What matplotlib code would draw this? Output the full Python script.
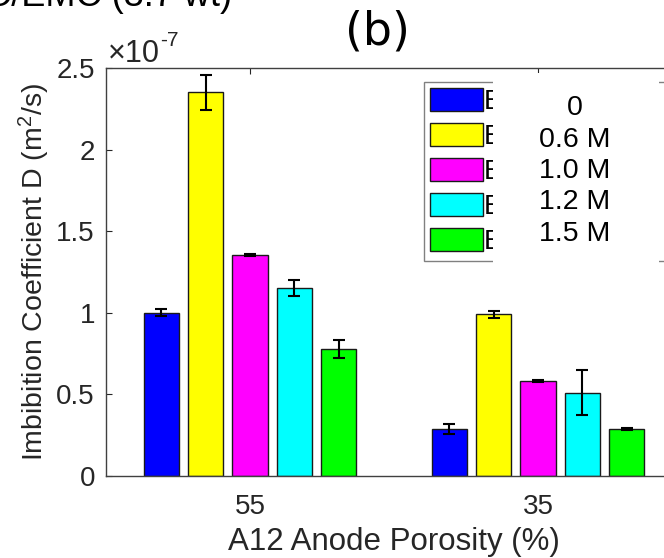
import numpy as np
import matplotlib
matplotlib.use('Agg')
import matplotlib.pyplot as plt
from matplotlib.patches import Rectangle
from matplotlib.ticker import FuncFormatter

plt.rcParams['font.family'] = ['Liberation Sans', 'DejaVu Sans']
plt.rcParams['mathtext.fontset'] = 'custom'
plt.rcParams['mathtext.rm'] = 'Liberation Sans'
plt.rcParams['mathtext.it'] = 'Liberation Sans:italic'

# data (imbibition coefficient in units of 1e-7 m^2/s)
porosity = ['55', '35']
concentrations = ['0', '0.6 M', '1.0 M', '1.2 M', '1.5 M']
legend_labels = ['Electrolyte 1', 'Electrolyte 2', 'Electrolyte 3',
                 'Electrolyte 4', 'Electrolyte 5']
d_0 = [1.00, 0.29]
d_06 = [2.35, 0.99]
d_10 = [1.355, 0.582]
d_12 = [1.153, 0.511]
d_15 = [0.777, 0.287]
err_0 = [0.022, 0.030]
err_06 = [0.105, 0.021]
err_10 = [0.008, 0.006]
err_12 = [0.050, 0.137]
err_15 = [0.057, 0.008]

means = [d_0, d_06, d_10, d_12, d_15]
errs = [err_0, err_06, err_10, err_12, err_15]
colors = ['#0000ff', '#ffff00', '#ff00ff', '#00ffff', '#00ff00']
dark = '#262626'

fig = plt.figure(figsize=(6.64, 5.58), dpi=100)
ax = fig.add_axes([106 / 664, 82 / 558, 576 / 664, 408 / 558])

x = np.arange(1, len(porosity) + 1)
n = len(means)
group_w = min(0.8, n / (n + 1.5))
step = group_w / n
bar_w = 0.8 * step

for i in range(n):
    pos = x + (i - (n - 1) / 2) * step
    ax.bar(pos, means[i], bar_w, color=colors[i], edgecolor='#1a1a1a',
           linewidth=1.0, label=legend_labels[i], zorder=2)
    ax.errorbar(pos, means[i], yerr=errs[i], fmt='none', ecolor='k',
                elinewidth=1.5, capsize=4.5, capthick=1.5, zorder=3)

ax.set_xlim(0.5, 2.5)
ax.set_ylim(0, 2.5)
ax.set_xticks(x, porosity)
ax.set_yticks(np.arange(0, 2.51, 0.5))
ax.yaxis.set_major_formatter(FuncFormatter(lambda v, p: '{:g}'.format(v)))
ax.tick_params(direction='in', top=True, right=True, length=4, width=0.8,
               labelsize=20, pad=8, colors=dark)
ax.tick_params(axis='x', pad=13)
for s in ax.spines.values():
    s.set_color('#404040')
    s.set_linewidth(1.0)

ax.set_xlabel('A12 Anode Porosity (%)', fontsize=22.5, labelpad=5, color=dark)
ax.set_ylabel(r'Imbibition Coefficient D (m$^{\mathregular{2}}$/s)',
              fontsize=20.5, labelpad=3, color=dark)

leg = ax.legend(loc='upper left', mode='expand',
                bbox_to_anchor=(424 / 664, 1 - 82 / 558, 252 / 664, 0),
                bbox_transform=fig.transFigure, borderaxespad=0,
                fontsize=20, handlelength=1.9, handleheight=0.9,
                handletextpad=0.05, labelspacing=0.28, borderpad=0.22,
                fancybox=False, framealpha=1, edgecolor='#808080')

# axis multiplier, written as plain text
mult = fig.text(108 / 664, 1 - 62 / 558, '\u00d710', fontsize=22,
                ha='left', va='baseline', color=dark)
ax.annotate('-7', xy=(1.0, 0.62), xycoords=mult, fontsize=15, color=dark,
            ha='left', va='bottom', annotation_clip=False)
fig.text(377 / 664, 1 - 32 / 558, '(b)', family='DejaVu Sans', fontsize=33,
         ha='center', va='center')
fig.text(232 / 664, 1 - 6 / 558, 'EC/EMC (3:7 wt)', fontsize=26,
         ha='right', va='baseline')

# white label box pasted over the legend text
fig.add_artist(Rectangle((493 / 664, 1 - 264 / 558), 166 / 664, 191 / 558,
                         transform=fig.transFigure, facecolor='white',
                         edgecolor='none', zorder=3))
fig.text(575 / 664, 1 - 171 / 558, '\n'.join(concentrations), fontsize=20.5,
         ha='center', va='center', multialignment='center',
         linespacing=1.27, zorder=4)

fig.savefig('out.png', dpi=100)
